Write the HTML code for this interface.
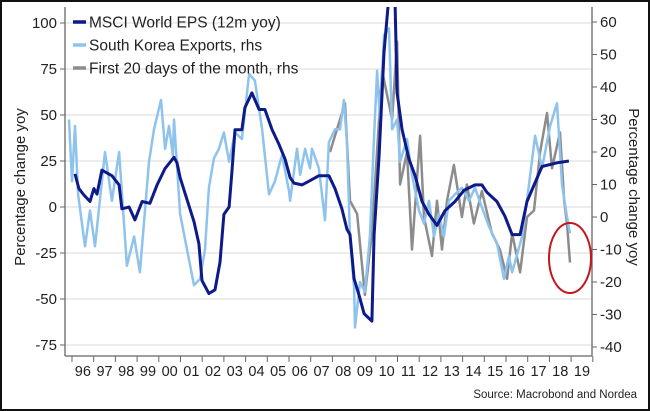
<!DOCTYPE html>
<html><head><meta charset="utf-8"><style>
html,body{margin:0;padding:0;background:#fff;}
#wrap{position:relative;width:650px;height:411px;overflow:hidden;box-sizing:border-box;border:2px solid #111;}
svg{position:absolute;left:0;top:0;}
text{font-family:"Liberation Sans",sans-serif;}
</style></head><body>
<div id="wrap">
<svg id="chart" width="650" height="411"></svg>
</div>
<script>
const years=["96","97","98","99","00","01","02","03","04","05","06","07","08","09","10","11","12","13","14","15","16","17","18","19"];
const leftTicks=[100,75,50,25,0,-25,-50,-75];
const rightTicks=[60,50,40,30,20,10,0,-10,-20,-30,-40];
const epsT=[1996.14,1996.32,1996.55,1996.83,1997.01,1997.15,1997.38,1997.84,1998.17,1998.30,1998.63,1998.90,1999.23,1999.59,1999.92,2000.29,2000.70,2000.84,2000.98,2001.30,2001.62,2001.85,2001.99,2002.31,2002.59,2002.82,2003.00,2003.24,2003.37,2003.51,2003.83,2003.97,2004.29,2004.62,2004.89,2005.22,2005.54,2005.82,2006.05,2006.23,2006.60,2006.92,2007.38,2007.84,2008.12,2008.44,2008.67,2008.81,2009.00,2009.23,2009.46,2009.82,2009.92,2010.15,2010.38,2010.61,2010.88,2010.98,2011.21,2011.53,2011.81,2012.13,2012.45,2012.82,2013.19,2013.65,2014.06,2014.57,2014.89,2015.12,2015.58,2015.95,2016.28,2016.65,2016.97,2017.66,2018.35,2018.90];
const epsV=[18,10,6.5,3,10,7,20,17,12,-1,0,-7,3,2,12,21,27,24,16,4,-8,-20,-40,-47,-45,-30,-4,0,19,42,42,54,62,53,53,42,34,26,16,13,12,14,17,17,10,-1,-12,-15,-39,-48,-58,-62,-15,28,84,115,115,62,42,26,17,3,-4,-10,-2,3,9,12,12,8,3,-5,-15,-15,3,22,24,25];
const korT=[1995.86,1996.0,1996.14,1996.28,1996.60,1996.83,1997.06,1997.52,1997.84,1998.17,1998.53,1998.86,1999.13,1999.55,1999.78,2000.10,2000.29,2000.47,2000.65,2000.70,2000.98,2001.30,2001.62,2001.90,2002.13,2002.31,2002.54,2002.77,2003.00,2003.24,2003.51,2003.83,2004.16,2004.43,2004.76,2005.08,2005.35,2005.59,2005.68,2006.00,2006.05,2006.37,2006.51,2006.74,2006.97,2007.06,2007.38,2007.66,2007.84,2008.12,2008.35,2008.53,2008.67,2008.81,2009.00,2009.04,2009.27,2009.50,2009.73,2009.92,2010.06,2010.19,2010.38,2010.61,2010.75,2010.98,2011.12,2011.44,2011.67,2011.99,2012.22,2012.45,2012.68,2012.91,2013.14,2013.37,2013.65,2013.97,2014.29,2014.57,2014.89,2015.22,2015.58,2015.91,2016.14,2016.28,2016.74,2017.06,2017.34,2017.66,2018.03,2018.35,2018.58,2018.81,2018.95];
const korV=[30,11,28,7,-9,2,-9,20,5,20,-15,-6,-17,17,27,36,21,28,19,30,1,-10,-21,-19,-10,9,18,21,26,17,26,24,44,42,27,7,11,17,19,8,5,21,13,21,15,21,15,-1,23,27,27,36,23,-6,-22,-34,-20,-23,-6,25,45,30,56,58,27,30,17,24,13,2,-2,5,-6,1,-6,5,7,9,5,9,3,-3,-8,-19,-12,-17,-6,10,25,15,28,35,10,0,-5];
const f20T=[2007.89,2008.12,2008.58,2008.81,2009.14,2009.50,2009.82,2010.29,2010.75,2010.98,2011.12,2011.44,2011.67,2012.04,2012.22,2012.59,2012.82,2013.05,2013.28,2013.60,2013.97,2014.20,2014.52,2014.89,2015.35,2015.72,2016.05,2016.28,2016.65,2016.97,2017.29,2017.57,2017.89,2018.12,2018.49,2018.68,2018.81,2018.95];
const f20V=[20,25,35,5,1,-24,-5,45,30,54,10,20,-10,25,0,-12,5,-10,5,16,0,10,-2,8,-5,-10,-19,-5,-17,0,2,20,32,15,26,5,-2,-14];

const svg=document.getElementById('chart');
const NS='http://www.w3.org/2000/svg';
const X0=63,X1=590,TOP=5,BOT=354;
const xs=t=>70+(t-1996)*21.7;
const yl=v=>205-v*1.84;
const yr=v=>215-v*3.25;
function mk(tag,attrs,parent){const e=document.createElementNS(NS,tag);for(const k in attrs)e.setAttribute(k,attrs[k]);(parent||svg).appendChild(e);return e;}
const defs=mk('defs',{});
const cp=mk('clipPath',{id:'plotclip'},defs);
mk('rect',{x:X0,y:TOP,width:X1-X0,height:BOT-TOP},cp);

leftTicks.forEach(v=>{
  const g=mk('line',{x1:X0,x2:X1,y1:yl(v),y2:yl(v),stroke:'#e2e2e2','stroke-width':1.2});
  
  
  mk('line',{x1:X0-5,x2:X0,y1:yl(v),y2:yl(v),stroke:'#666'});
  const t=mk('text',{x:X0-8,y:yl(v)+5,'text-anchor':'end','font-size':15,fill:'#222'});
  t.textContent=v;
  
  
});
rightTicks.forEach(v=>{
  mk('line',{x1:X1,x2:X1+5,y1:yr(v),y2:yr(v),stroke:'#666'});
  const t=mk('text',{x:X1+8,y:yr(v)+5,'font-size':15,fill:'#222'});
  t.textContent=v;
  
  
});
years.forEach((y,i)=>{
  const x=xs(1996+i);
  mk('line',{x1:x,x2:x,y1:BOT,y2:BOT+6,stroke:'#666'});
  const t=mk('text',{x:x+10.85,y:BOT+20,'text-anchor':'middle','font-size':14.5,fill:'#222'});
  t.textContent=y;
  
  
});
mk('line',{x1:xs(2020),x2:xs(2020),y1:BOT,y2:BOT+6,stroke:'#666'});
mk('line',{x1:X0,x2:X0,y1:TOP,y2:BOT,stroke:'#666','stroke-width':1.3});
mk('line',{x1:X1,x2:X1,y1:TOP,y2:BOT,stroke:'#666','stroke-width':1.3});
mk('line',{x1:X0,x2:X1,y1:BOT,y2:BOT,stroke:'#666','stroke-width':1.3});

const plot=mk('g',{'clip-path':'url(#plotclip)'});
function series(T,V,yf,color,w,name){
  const d=T.map((t,i)=>(i?'L':'M')+xs(t).toFixed(1)+','+yf(V[i]).toFixed(1)).join(' ');
  const p=mk('path',{d:d,fill:'none',stroke:color,'stroke-width':w,'stroke-linejoin':'round'},plot);
  
  
}
series(f20T,f20V,yr,'#8c8c8c',2.5,'first-20-days-line');
series(korT,korV,yr,'#8ec3ee',2.5,'korea-exports-line');
series(epsT,epsV,yl,'#0c1a8a',3,'msci-eps-line');

const leg=[['MSCI World EPS (12m yoy)','#0c1a8a',20],['South Korea Exports, rhs','#8ec3ee',43],['First 20 days of the month, rhs','#8c8c8c',66]];
leg.forEach(l=>{
  mk('line',{x1:71,x2:84,y1:l[2],y2:l[2],stroke:l[1],'stroke-width':3.5});
  const t=mk('text',{x:87,y:l[2]+5.5,'font-size':15.5,fill:'#222'});
  t.textContent=l[0];
  
  
});

const ell=mk('ellipse',{cx:568,cy:256,rx:21,ry:35,fill:'none',stroke:'#c4161c','stroke-width':2});



let t=mk('text',{x:0,y:0,'font-size':15,fill:'#222','text-anchor':'middle',transform:'translate(23,185) rotate(-90)'});
t.textContent='Percentage change yoy';


t=mk('text',{x:0,y:0,'font-size':15,fill:'#222','text-anchor':'middle',transform:'translate(627,185) rotate(90)'});
t.textContent='Percentage change yoy';


t=mk('text',{x:635,y:396,'font-size':11.5,fill:'#222','text-anchor':'end'});
t.textContent='Source: Macrobond and Nordea';


</script>
</body></html>
